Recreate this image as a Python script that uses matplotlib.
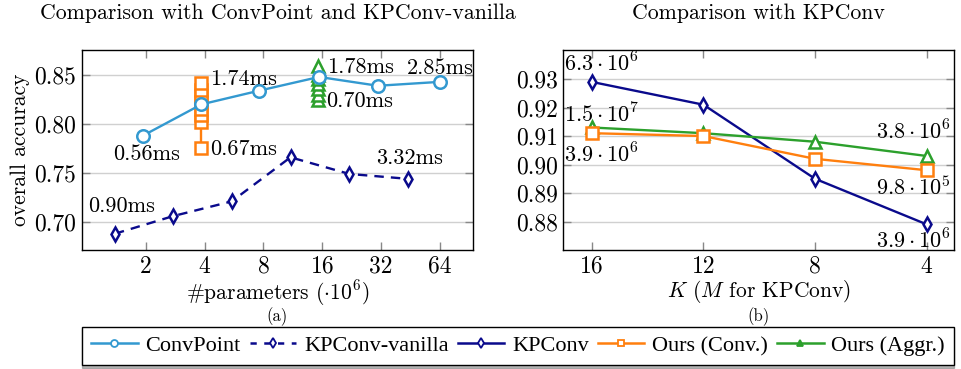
import matplotlib
matplotlib.use("Agg")
import matplotlib.pyplot as plt
from matplotlib.lines import Line2D

plt.rcParams['font.family'] = 'serif'
plt.rcParams['font.serif'] = ['cmr10']
plt.rcParams['mathtext.fontset'] = 'cm'
plt.rcParams['axes.unicode_minus'] = False

# (a) accuracy vs. number of parameters (x in millions)
convpoint_params = [1.93, 3.85, 7.6, 15.4, 30.8, 64.0]
convpoint_acc = [0.788, 0.820, 0.834, 0.848, 0.839, 0.843]
vanilla_params = [1.39, 2.76, 5.5, 11.0, 22.0, 44.0]
vanilla_acc = [0.688, 0.706, 0.721, 0.766, 0.749, 0.744]
ours_conv_params = [3.85, 3.85, 3.85, 3.85, 3.85, 3.85, 3.85, 3.85]
ours_conv_acc = [0.775, 0.802, 0.809, 0.815, 0.822, 0.829, 0.835, 0.842]
ours_aggr_params = [15.2, 15.2, 15.2, 15.2, 15.2, 15.2, 15.2]
ours_aggr_acc = [0.8245, 0.830, 0.836, 0.841, 0.846, 0.850, 0.8595]
param_ticks = [2, 4, 8, 16, 32, 64]
acc_ticks_a = [0.70, 0.75, 0.80, 0.85]

# (b) accuracy vs. K (M for KPConv)
k_values = [16, 12, 8, 4]
kpconv_acc = [0.929, 0.921, 0.895, 0.879]
ours_conv_k_acc = [0.911, 0.910, 0.902, 0.898]
ours_aggr_k_acc = [0.913, 0.911, 0.908, 0.903]
acc_ticks_b = [0.88, 0.89, 0.90, 0.91, 0.92, 0.93]

c_convpoint = '#3399d0'
c_navy = '#0a0a8c'
c_orange = '#ff7f0e'
c_green = '#2ca02c'

fig = plt.figure(figsize=(9.61, 3.69), dpi=100)
ax1 = fig.add_axes([0.0853, 0.3225, 0.4069, 0.542])
ax2 = fig.add_axes([0.5862, 0.3225, 0.4065, 0.542])

mk = dict(markerfacecolor='white', markeredgewidth=1.8, linewidth=1.7)

# ---- left panel ----
ax1.plot(ours_conv_params, ours_conv_acc, color=c_orange, marker='s', markersize=8,
         markeredgecolor=c_orange, **mk, zorder=3)
ax1.plot(ours_aggr_params, ours_aggr_acc, color=c_green, marker='^', markersize=8.5,
         markeredgecolor=c_green, **mk, zorder=3)
ax1.plot(convpoint_params, convpoint_acc, color=c_convpoint, marker='o', markersize=9,
         markeredgecolor=c_convpoint, **mk, zorder=4)
ax1.plot(vanilla_params, vanilla_acc, color=c_navy, marker='d', markersize=7,
         markeredgecolor=c_navy, linestyle=(0, (4, 3)), **mk, zorder=4)

ax1.set_xscale('log', base=2)
ax1.set_xlim(0.943, 94.4)
ax1.set_ylim(0.6714, 0.8755)
ax1.set_xticks(param_ticks)
ax1.set_xticklabels([str(t) for t in param_ticks])
ax1.minorticks_off()
ax1.set_yticks(acc_ticks_a)
ax1.set_yticklabels(['%.2f' % t for t in acc_ticks_a])
ax1.set_ylabel('overall accuracy', fontsize=15.5, labelpad=3)
ax1.set_xlabel(r'#parameters $(\cdot10^{6})$', fontsize=15.5, va='center')
ax1.xaxis.set_label_coords(0.5, -0.215)
ax1.set_title('Comparison with ConvPoint and KPConv-vanilla', fontsize=15.7, pad=22)

ann = dict(textcoords='offset pixels', ha='center', va='center', fontsize=16)
ax1.annotate('0.56ms', (convpoint_params[0], convpoint_acc[0]), xytext=(4, -19), **ann)
ax1.annotate('2.85ms', (convpoint_params[-1], convpoint_acc[-1]), xytext=(0, 14), **ann)
ax1.annotate('1.74ms', (ours_conv_params[-1], ours_conv_acc[-1]), xytext=(42, 4), **ann)
ax1.annotate('0.67ms', (ours_conv_params[0], ours_conv_acc[0]), xytext=(42, -1), **ann)
ax1.annotate('1.78ms', (ours_aggr_params[-1], ours_aggr_acc[-1]), xytext=(42, -2), **ann)
ax1.annotate('0.70ms', (ours_aggr_params[0], ours_aggr_acc[0]), xytext=(42, -1), **ann)
ax1.annotate('0.90ms', (vanilla_params[0], vanilla_acc[0]), xytext=(7, 27), **ann)
ax1.annotate('3.32ms', (vanilla_params[-1], vanilla_acc[-1]), xytext=(1, 21), **ann)
ax1.text(0.5, -0.335, '(a)', transform=ax1.transAxes, ha='center', va='center', fontsize=12)

# ---- right panel ----
ax2.plot(k_values, kpconv_acc, color=c_navy, marker='d', markersize=7,
         markeredgecolor=c_navy, **mk, zorder=3)
ax2.plot(k_values, ours_aggr_k_acc, color=c_green, marker='^', markersize=8.5,
         markeredgecolor=c_green, **mk, zorder=3)
ax2.plot(k_values, ours_conv_k_acc, color=c_orange, marker='s', markersize=8,
         markeredgecolor=c_orange, **mk, zorder=4)

ax2.set_xlim(17.02, 3.02)
ax2.set_ylim(0.870, 0.9402)
ax2.set_xticks(k_values)
ax2.set_xticklabels([str(k) for k in k_values])
ax2.set_yticks(acc_ticks_b)
ax2.set_yticklabels(['%.2f' % t for t in acc_ticks_b])
ax2.set_xlabel(r'$K$ $(M$ for KPConv)', fontsize=15.5, va='center')
ax2.xaxis.set_label_coords(0.5, -0.21)
ax2.set_title('Comparison with KPConv', fontsize=15.7, pad=22)

ax2.annotate(r'$6.3\cdot10^{6}$', (k_values[0], kpconv_acc[0]), xytext=(10, 18), **ann)
ax2.annotate(r'$1.5\cdot10^{7}$', (k_values[0], ours_aggr_k_acc[0]), xytext=(10, 13), **ann)
ax2.annotate(r'$3.9\cdot10^{6}$', (k_values[0], ours_conv_k_acc[0]), xytext=(10, -21), **ann)
ax2.annotate(r'$3.8\cdot10^{6}$', (k_values[-1], ours_aggr_k_acc[-1]), xytext=(-13, 24), **ann)
ax2.annotate(r'$9.8\cdot10^{5}$', (k_values[-1], ours_conv_k_acc[-1]), xytext=(-13, -17), **ann)
ax2.annotate(r'$3.9\cdot10^{6}$', (k_values[-1], kpconv_acc[-1]), xytext=(-13, -16), **ann)
ax2.text(0.5, -0.335, '(b)', transform=ax2.transAxes, ha='center', va='center', fontsize=12)

for ax in (ax1, ax2):
    ax.grid(axis='y', color='#d0d0d0', linewidth=1.0)
    ax.set_axisbelow(True)
    ax.tick_params(direction='in', length=6, width=1.0, color='#888888',
                   top=True, right=True, labelsize=17, pad=4)
    for s in ax.spines.values():
        s.set_linewidth(1.0)

# shared legend along the bottom
handles = [
    Line2D([], [], color=c_convpoint, marker='o', markersize=5, markerfacecolor='white',
           markeredgewidth=1.3, linewidth=1.8),
    Line2D([], [], color=c_navy, marker='d', markersize=5, markerfacecolor='white',
           markeredgewidth=1.3, linewidth=1.8, linestyle=(0, (2.5, 3))),
    Line2D([], [], color=c_navy, marker='d', markersize=5, markerfacecolor='white',
           markeredgewidth=1.3, linewidth=1.8),
    Line2D([], [], color=c_orange, marker='s', markersize=5, markerfacecolor='white',
           markeredgewidth=1.3, linewidth=1.8),
    Line2D([], [], color=c_green, marker='^', markersize=5, markerfacecolor=c_green,
           markeredgewidth=1.3, linewidth=1.8),
]
labels = ['ConvPoint', 'KPConv-vanilla', 'KPConv', 'Ours (Conv.)', 'Ours (Aggr.)']
leg = fig.legend(handles, labels, loc='center', bbox_to_anchor=(0.539, 0.063), ncol=5,
                 frameon=True, fancybox=False, edgecolor='black', handlelength=2.1,
                 handletextpad=0.35, columnspacing=0.4, borderpad=0.4,
                 prop={'family': 'Liberation Serif', 'size': 16},
                 shadow={'ox': 0, 'oy': -2, 'color': '0.45'})
leg.get_frame().set_linewidth(1.0)

fig.savefig('out.png', dpi=100)
